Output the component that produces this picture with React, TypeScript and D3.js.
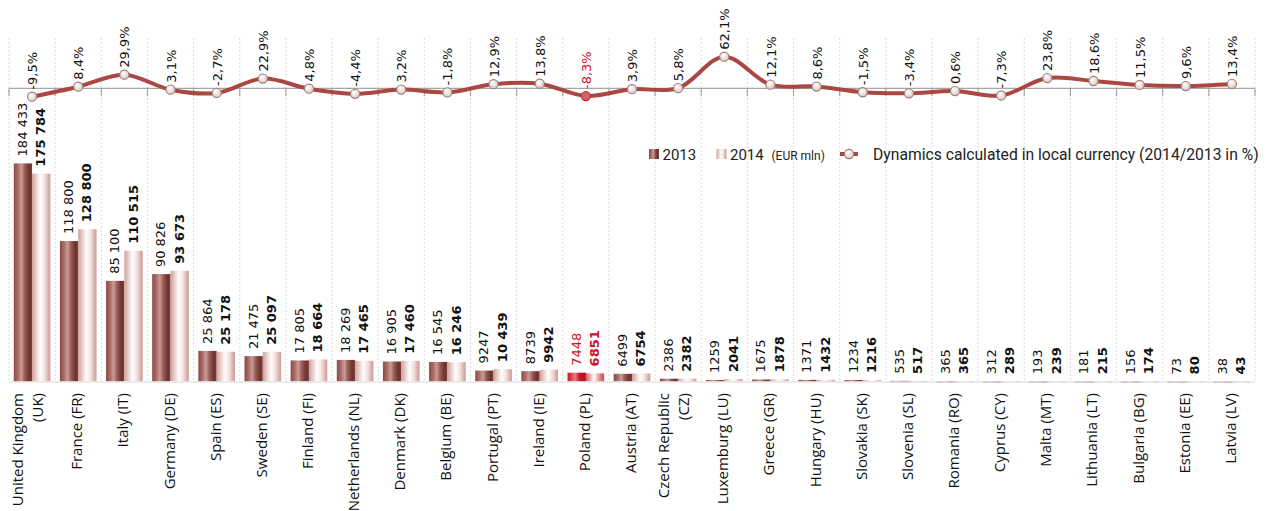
import React from "react";
import * as d3 from "d3";

// countries, EUR mln and yearly dynamics (in local currency)
const countries = [
  "United Kingdom", "France", "Italy", "Germany", "Spain", "Sweden", "Finland",
  "Netherlands", "Denmark", "Belgium", "Portugal", "Ireland", "Poland", "Austria",
  "Czech Republic", "Luxemburg", "Greece", "Hungary", "Slovakia", "Slovenia",
  "Romania", "Cyprus", "Malta", "Lithuania", "Bulgaria", "Estonia", "Latvia",
];
const codes = [
  "UK", "FR", "IT", "DE", "ES", "SE", "FI", "NL", "DK", "BE", "PT", "IE", "PL", "AT",
  "CZ", "LU", "GR", "HU", "SK", "SL", "RO", "CY", "MT", "LT", "BG", "EE", "LV",
];
const values2013 = [
  184433, 118800, 85100, 90826, 25864, 21475, 17805, 18269, 16905, 16545, 9247, 8739,
  7448, 6499, 2386, 1259, 1675, 1371, 1234, 535, 365, 312, 193, 181, 156, 73, 38,
];
const values2014 = [
  175784, 128800, 110515, 93673, 25178, 25097, 18664, 17465, 17460, 16246, 10439, 9942,
  6851, 6754, 2382, 2041, 1878, 1432, 1216, 517, 365, 289, 239, 215, 174, 80, 43,
];
const dynamics = [
  -9.5, 8.4, 29.9, 3.1, -2.7, 22.9, 4.8, -4.4, 3.2, -1.8, 12.9, 13.8, -8.3, 3.9, 5.8,
  62.1, 12.1, 8.6, -1.5, -3.4, 0.6, -7.3, 23.8, 18.6, 11.5, 9.6, 13.4,
];
const highlight = "PL";

const W = 1273;
const H = 511;
const left = 9;
const right = 1255;
const baseY = 381.5;
const axisY = 88.3;

const numFont = "DejaVu Sans, Verdana, sans-serif";
const labelFont = "Open Sans, sans-serif";
const legendFont = "Roboto, sans-serif";
const red = "#d0102b";

const fmtNum = (v: number) => (v >= 10000 ? d3.format(",")(v).replace(/,/g, " ") : String(v));
const fmtPct = (v: number) => v.toFixed(1).replace(".", ",") + "%";

export default function App() {
  const x = d3.scaleBand<string>().domain(codes).range([left, right]).padding(0);
  const sub = d3
    .scaleBand<string>()
    .domain(["2013", "2014"])
    .range([0, x.bandwidth()])
    .paddingInner(0)
    .paddingOuter(0.26);
  const yBar = d3.scaleLinear().domain([0, 200000]).range([baseY, 145]);
  const yLine = d3.scaleLinear().domain([0, 62.1]).range([91.4, 56.7]);

  const cx = (i: number) => (x(codes[i]) as number) + x.bandwidth() / 2;
  const line = d3
    .line<number>()
    .x((_, i) => cx(i))
    .y((d) => yLine(d))
    .curve(d3.curveCatmullRom.alpha(0.5));

  const bounds = d3.range(codes.length + 1).map((i) => left + i * x.bandwidth());

  return (
    <svg width={W} height={H} style={{ position: "absolute", left: 0, top: 0, background: "#fff" }}>
      <defs>
        <linearGradient id="g13" x1="0" x2="1" y1="0" y2="0">
          <stop offset="0%" stopColor="#8c4a45" />
          <stop offset="18%" stopColor="#a2645f" />
          <stop offset="42%" stopColor="#c99c97" />
          <stop offset="60%" stopColor="#9c5c57" />
          <stop offset="85%" stopColor="#6c322f" />
          <stop offset="100%" stopColor="#7d413d" />
        </linearGradient>
        <linearGradient id="g14" x1="0" x2="1" y1="0" y2="0">
          <stop offset="0%" stopColor="#cf9f9a" />
          <stop offset="20%" stopColor="#e8cac6" />
          <stop offset="45%" stopColor="#ffffff" />
          <stop offset="70%" stopColor="#f1dedb" />
          <stop offset="90%" stopColor="#d8aca7" />
          <stop offset="100%" stopColor="#cd9d98" />
        </linearGradient>
        <linearGradient id="g13r" x1="0" x2="1" y1="0" y2="0">
          <stop offset="0%" stopColor="#c01424" />
          <stop offset="42%" stopColor="#e87a86" />
          <stop offset="65%" stopColor="#c8182a" />
          <stop offset="100%" stopColor="#a80c1c" />
        </linearGradient>
        <linearGradient id="g14r" x1="0" x2="1" y1="0" y2="0">
          <stop offset="0%" stopColor="#d8505e" />
          <stop offset="45%" stopColor="#ffffff" />
          <stop offset="80%" stopColor="#e07883" />
          <stop offset="100%" stopColor="#d04a58" />
        </linearGradient>
        <radialGradient id="mk" cx="40%" cy="35%" r="70%">
          <stop offset="0%" stopColor="#ffffff" />
          <stop offset="100%" stopColor="#d9c3bf" />
        </radialGradient>
      </defs>

      {/* dotted category grid */}
      {bounds.map((b, i) => (
        <line key={"g" + i} x1={b} x2={b} y1={38} y2={baseY} stroke="#dcdcdc" strokeDasharray="2,2" />
      ))}

      {/* bars */}
      {codes.map((c, i) => {
        const x0 = x(c) as number;
        const hl = c === highlight;
        return (
          <g key={"b" + c}>
            {[values2013[i], values2014[i]].map((v, k) => {
              const key = k === 0 ? "2013" : "2014";
              const bx = x0 + (sub(key) as number);
              const bw = sub.bandwidth();
              const top = yBar(v);
              const lx = bx + bw / 2 - 0.5;
              return (
                <g key={key}>
                  <rect x={bx} y={top} width={bw} height={Math.max(baseY - top, 1.5)}
                    fill={`url(#g${k === 0 ? "13" : "14"}${hl ? "r" : ""})`} />
                  <text transform={`translate(${lx},${top - 7}) rotate(-90)`} dy="0.35em"
                    fontFamily={numFont} fontSize={13} fontWeight={k === 0 ? "normal" : "bold"}
                    fill={hl ? red : "#111"}>
                    {fmtNum(v)}
                  </text>
                </g>
              );
            })}
          </g>
        );
      })}
      <line x1={left} x2={right} y1={baseY + 0.5} y2={baseY + 0.5} stroke="#e4e4e4" strokeWidth={1.5} />

      {/* country labels */}
      {codes.map((c, i) => {
        const name = countries[i];
        const lines = name.length > 12 ? [name, `(${c})`] : [`${name} (${c})`];
        const offs = lines.length === 2 ? [-9.5, 11] : [4];
        return lines.map((t, k) => (
          <text key={"l" + c + k} transform={`translate(${cx(i) + offs[k]},393) rotate(-90)`}
            textAnchor="end" fontFamily={labelFont} fontSize={15} fill="#111">
            {t}
          </text>
        ));
      })}

      {/* line axis */}
      <line x1={left} x2={right} y1={axisY} y2={axisY} stroke="#a6a6a6" strokeWidth={1.2} />
      {bounds.map((b, i) => (
        <line key={"t" + i} x1={b} x2={b} y1={axisY} y2={axisY + 8} stroke="#a6a6a6" strokeWidth={1.2} />
      ))}

      {/* dynamics line */}
      <path d={line(dynamics) || ""} fill="none" stroke="#aa4742" strokeWidth={4} strokeLinecap="round" />
      {dynamics.map((d, i) => {
        const hl = codes[i] === highlight;
        return (
          <g key={"m" + i}>
            <circle cx={cx(i)} cy={yLine(d)} r={4.6} fill={hl ? "#d9606a" : "url(#mk)"}
              stroke={hl ? "#b0303a" : "#9c7d78"} strokeWidth={1.1} />
            <text transform={`translate(${cx(i) + 0.5},${yLine(d) - 7}) rotate(-90)`} dy="0.35em"
              fontFamily={numFont} fontSize={13} fill={hl ? red : "#111"}>
              {fmtPct(d)}
            </text>
          </g>
        );
      })}

      {/* legend */}
      <g fontFamily={legendFont} fill="#222">
        <rect x={649} y={149} width={10} height={10} fill="url(#g13)" />
        <text x={662.5} y={159.5} fontSize={15}>2013</text>
        <rect x={716.5} y={149} width={10} height={10} fill="url(#g14)" />
        <text x={730} y={159.5} fontSize={15}>2014</text>
        <text x={771.5} y={159.5} fontSize={12}>(EUR mln)</text>
        <line x1={840} x2={858} y1={154} y2={154} stroke="#aa4742" strokeWidth={4} />
        <circle cx={849} cy={154} r={4.6} fill="url(#mk)" stroke="#9c7d78" strokeWidth={1.1} />
        <text x={873} y={159.5} fontSize={15.7}>Dynamics calculated in local currency (2014/2013 in %)</text>
      </g>
    </svg>
  );
}
